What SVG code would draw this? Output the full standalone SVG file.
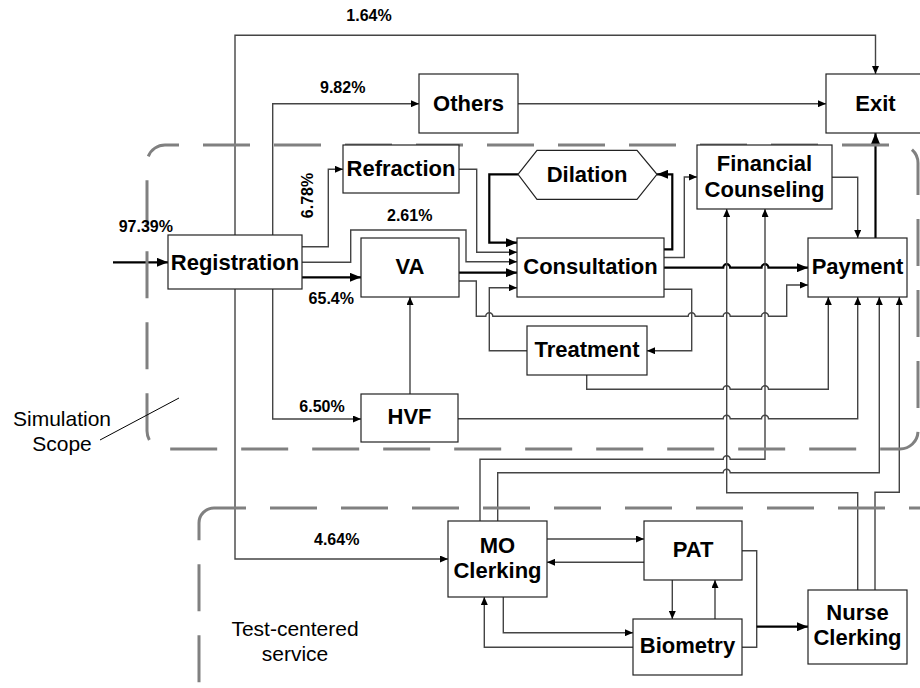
<svg xmlns="http://www.w3.org/2000/svg" width="920" height="688" viewBox="0 0 920 688">
<defs>
<style>
.bx{fill:#fff;stroke:#222;stroke-width:1.2}
.t{font-family:"Liberation Sans",Arial,sans-serif;font-weight:bold;font-size:22px;fill:#000;text-anchor:middle}
.p{font-family:"Liberation Sans",Arial,sans-serif;font-weight:bold;font-size:16px;fill:#000;text-anchor:middle}
.r{font-family:"Liberation Sans",Arial,sans-serif;font-size:21px;fill:#000;text-anchor:middle}
.c{fill:none;stroke:#444;stroke-width:1.4;marker-end:url(#a)}
.n{fill:none;stroke:#444;stroke-width:1.4}
.k{fill:none;stroke:#000;stroke-width:2.2;marker-end:url(#b)}
.d{fill:none;stroke:#808080;stroke-width:3;stroke-dasharray:47 24}
</style>
<marker id="a" markerWidth="8" markerHeight="7" refX="8" refY="3.5" orient="auto" markerUnits="userSpaceOnUse"><path d="M0,0L8,3.5L0,7z" fill="#000"/></marker>
<marker id="b" markerWidth="11" markerHeight="9" refX="11" refY="4.5" orient="auto" markerUnits="userSpaceOnUse"><path d="M0,0L11,4.5L0,9z" fill="#000"/></marker>
</defs>
<rect width="920" height="688" fill="#fff"/>

<g id="connectors">
<path class="c" d="M235,235V35.3H875.5V74"/>
<path class="c" d="M272.7,235V103.7H419"/>
<path class="c" d="M272.7,289V419H361"/>
<path class="c" d="M235,289V559H448"/>
<path class="c" d="M302,246.7H328.3V169.3H343"/>
<path class="c" d="M302,262.3H350.7V230H466V261.7H517"/>
<path class="k" d="M302,277.3H361"/>
<path class="c" d="M459,169.3H476.7V252.3H517"/>
<path class="k" d="M518,174.3H489.3V242.7H517"/>
<path class="k" d="M459,272.7H517"/>
<path class="c" d="M527,350.7H489.3V287.7H517"/>
<path class="c" d="M459,281H476.3V316.3H485.8A3.5,3.5 0 0 1 492.8,316.3H688.2A3.5,3.5 0 0 1 695.2,316.3H723.2A3.5,3.5 0 0 1 730.2,316.3H761.5A3.5,3.5 0 0 1 768.5,316.3H786.7V285H808"/>
<path class="k" d="M664,249.3H672.3V174.3H657"/>
<path class="c" d="M664,257.5H684.3V177H697"/>
<path class="k" d="M664,267.7H723.2A3.5,3.5 0 0 1 730.2,267.7H761.5A3.5,3.5 0 0 1 768.5,267.7H808"/>
<path class="c" d="M664,289.3H691.7V350.7H647"/>
<path class="c" d="M832,177.3H857.7V238"/>
<path class="k" d="M875.5,238V133"/>
<path class="c" d="M586.7,375V389.3H723.2A3.5,3.5 0 0 1 730.2,389.3H761.5A3.5,3.5 0 0 1 768.5,389.3H828.3V297"/>
<path class="c" d="M458,418.7H723.2A3.5,3.5 0 0 1 730.2,418.7H761.5A3.5,3.5 0 0 1 768.5,418.7H857.7V297"/>
<path class="c" d="M410,394V297"/>
<path class="c" d="M518,103.7H826"/>
<path class="c" d="M480,521V459.3H723.2A3.5,3.5 0 0 1 730.2,459.3H765V209"/>
<path class="c" d="M497.7,521V472.7H723.2A3.5,3.5 0 0 1 730.2,472.7H879.3V297"/>
<path class="c" d="M857.7,590V492.7H726.7V209"/>
<path class="c" d="M875,590V492.3H899.3V297"/>
<path class="c" d="M547,539H644"/>
<path class="c" d="M644,562.3H547"/>
<path class="c" d="M672.3,580V619"/>
<path class="c" d="M715,619V580"/>
<path class="c" d="M503.3,597V632.7H633"/>
<path class="c" d="M633,647.3H484.3V597"/>
<path class="n" d="M742,550.7H756.7V647.3H742"/>
<path class="k" d="M756.7,626.7H808"/>
<path class="k" d="M113,262.3H168"/>
</g>

<g id="simulation-scope">
<rect class="d" x="147" y="145" width="771" height="304" rx="18" style="stroke-dashoffset:33"/>
<text class="r" x="62" y="426">Simulation</text>
<text class="r" x="62" y="451">Scope</text>
<line x1="100" y1="440" x2="179" y2="398" stroke="#000" stroke-width="1"/>
</g>
<g id="test-centered-service">
<rect class="d" x="199" y="508" width="800" height="220" rx="15" style="stroke-dashoffset:15"/>
<text class="r" x="295" y="636">Test-centered</text>
<text class="r" x="295" y="661">service</text>
</g>

<g id="labels">
<text class="p" x="369" y="21">1.64%</text>
<text class="p" x="342.7" y="92.7">9.82%</text>
<text class="p" transform="translate(313.3,195.5) rotate(-90)">6.78%</text>
<text class="p" x="409.7" y="221">2.61%</text>
<text class="p" x="145.8" y="231.7">97.39%</text>
<text class="p" x="331.3" y="304">65.4%</text>
<text class="p" x="322" y="412.3">6.50%</text>
<text class="p" x="336.7" y="545">4.64%</text>
</g>

<g id="others"><rect class="bx" x="419" y="74" width="99" height="59"/><text class="t" x="468.5" y="111">Others</text></g>
<g id="exit"><rect class="bx" x="826" y="74" width="100" height="59"/><text class="t" x="875.5" y="111">Exit</text></g>
<g id="refraction"><rect class="bx" x="343" y="145" width="116" height="48"/><text class="t" x="401" y="176">Refraction</text></g>
<g id="dilation"><polygon class="bx" points="518,174.3 537,150.3 637,150.3 657,174.3 637,199.3 537,199.3"/><text class="t" x="587" y="181.7">Dilation</text></g>
<g id="financial-counseling"><rect class="bx" x="697" y="145" width="135" height="64"/><text class="t" x="764.5" y="171">Financial</text><text class="t" x="764.5" y="196.7">Counseling</text></g>
<g id="registration"><rect class="bx" x="168" y="235" width="134" height="54"/><text class="t" x="235" y="269.5">Registration</text></g>
<g id="va"><rect class="bx" x="361" y="238" width="98" height="59"/><text class="t" x="410" y="274.3">VA</text></g>
<g id="consultation"><rect class="bx" x="517" y="238" width="147" height="59"/><text class="t" x="590.5" y="274.3">Consultation</text></g>
<g id="payment"><rect class="bx" x="808" y="238" width="99" height="59"/><text class="t" x="857.5" y="274.3">Payment</text></g>
<g id="treatment"><rect class="bx" x="527" y="326" width="120" height="49"/><text class="t" x="587" y="356.7">Treatment</text></g>
<g id="hvf"><rect class="bx" x="361" y="394" width="97" height="48"/><text class="t" x="409.5" y="424">HVF</text></g>
<g id="mo-clerking"><rect class="bx" x="448" y="521" width="99" height="76"/><text class="t" x="497.5" y="552.7">MO</text><text class="t" x="497.5" y="578.3">Clerking</text></g>
<g id="pat"><rect class="bx" x="644" y="521" width="98" height="59"/><text class="t" x="693" y="556.7">PAT</text></g>
<g id="biometry"><rect class="bx" x="633" y="619" width="109" height="56"/><text class="t" x="687.5" y="653.3">Biometry</text></g>
<g id="nurse-clerking"><rect class="bx" x="808" y="590" width="99" height="74"/><text class="t" x="857.5" y="620">Nurse</text><text class="t" x="857.5" y="645">Clerking</text></g>
</svg>
